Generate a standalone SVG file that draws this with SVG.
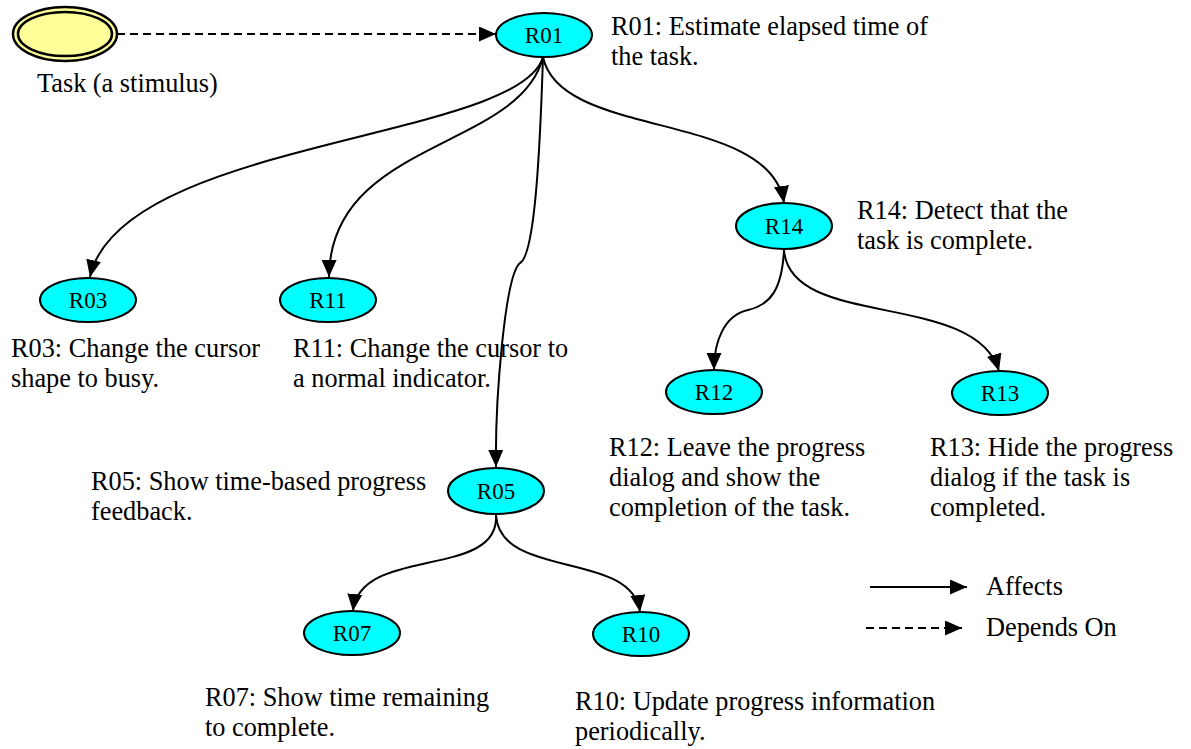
<svg xmlns="http://www.w3.org/2000/svg" width="1191" height="749" viewBox="0 0 1191 749">
<style>
.node{fill:#00ffff;stroke:#000;stroke-width:2}
.lbl{font-family:'Times New Roman','Liberation Serif','DejaVu Serif',serif;font-size:23px;fill:#000;text-anchor:middle}
.txt{font-family:'Times New Roman','Liberation Serif','DejaVu Serif',serif;font-size:26.3px;fill:#000}
.edge{fill:none;stroke:#000;stroke-width:2}
.dash{stroke-dasharray:8 5}
</style>
<defs>
<marker id="arr" markerUnits="userSpaceOnUse" markerWidth="20" markerHeight="16" refX="17" refY="7.5" orient="auto">
<path d="M0,0 L17,7.5 L0,15 Z" fill="#000"/>
</marker>
</defs>
<rect width="1191" height="749" fill="#fff"/>
<g id="connectors">
<path class="edge dash" d="M117,34 L496,34" marker-end="url(#arr)"/>
<path class="edge" d="M543,57 C520,140 120,140 90,277" marker-end="url(#arr)"/>
<path class="edge" d="M543,57 C520,150 330,140 329,277" marker-end="url(#arr)"/>
<path class="edge" d="M543,57 C540,150 535,255 520,263 C505,275 495,400 496,467" marker-end="url(#arr)"/>
<path class="edge" d="M543,57 C560,140 770,110 784,203" marker-end="url(#arr)"/>
<path class="edge" d="M784,250 C782,290 770,305 748,310 C725,315 714,340 714,370" marker-end="url(#arr)"/>
<path class="edge" d="M784,250 C790,330 975,290 999,371" marker-end="url(#arr)"/>
<path class="edge" d="M496,515 C500,580 360,545 353,611" marker-end="url(#arr)"/>
<path class="edge" d="M496,515 C500,580 632,550 640,612" marker-end="url(#arr)"/>
</g>
<g id="task">
<ellipse cx="65" cy="34" rx="52" ry="27" fill="#ffff99" stroke="#000" stroke-width="2.5"/>
<ellipse cx="65" cy="34" rx="47" ry="22" fill="#ffff99" stroke="#000" stroke-width="2.5"/>
<text class="txt" x="37" y="92">Task (a stimulus)</text>
</g>
<g id="R01">
<ellipse class="node" cx="544" cy="35" rx="48" ry="22"/>
<text class="lbl" x="544" y="43">R01</text>
<text class="txt" x="611" y="35">R01: Estimate elapsed time of</text>
<text class="txt" x="611" y="65">the task.</text>
</g>
<g id="R14">
<ellipse class="node" cx="784" cy="226" rx="48" ry="23"/>
<text class="lbl" x="784" y="234">R14</text>
<text class="txt" x="857" y="219">R14: Detect that the</text>
<text class="txt" x="857" y="249">task is complete.</text>
</g>
<g id="R03">
<ellipse class="node" cx="88" cy="300" rx="48" ry="22"/>
<text class="lbl" x="88" y="308">R03</text>
<text class="txt" x="11" y="357">R03: Change the cursor</text>
<text class="txt" x="11" y="387">shape to busy.</text>
</g>
<g id="R11">
<ellipse class="node" cx="328" cy="300" rx="48" ry="22"/>
<text class="lbl" x="328" y="308">R11</text>
<text class="txt" x="293" y="357">R11: Change the cursor to</text>
<text class="txt" x="293" y="387">a normal indicator.</text>
</g>
<g id="R12">
<ellipse class="node" cx="714" cy="392" rx="48" ry="22"/>
<text class="lbl" x="714" y="400">R12</text>
<text class="txt" x="609" y="456">R12: Leave the progress</text>
<text class="txt" x="609" y="486">dialog and show the</text>
<text class="txt" x="609" y="516">completion of the task.</text>
</g>
<g id="R13">
<ellipse class="node" cx="1000" cy="393" rx="48" ry="22"/>
<text class="lbl" x="1000" y="401">R13</text>
<text class="txt" x="930" y="456">R13: Hide the progress</text>
<text class="txt" x="930" y="486">dialog if the task is</text>
<text class="txt" x="930" y="516">completed.</text>
</g>
<g id="R05">
<ellipse class="node" cx="496" cy="491" rx="48" ry="23"/>
<text class="lbl" x="496" y="499">R05</text>
<text class="txt" x="91" y="490">R05: Show time-based progress</text>
<text class="txt" x="91" y="520">feedback.</text>
</g>
<g id="R07">
<ellipse class="node" cx="352" cy="633" rx="48" ry="22"/>
<text class="lbl" x="352" y="641">R07</text>
<text class="txt" x="205" y="706">R07: Show time remaining</text>
<text class="txt" x="205" y="736">to complete.</text>
</g>
<g id="R10">
<ellipse class="node" cx="641" cy="634" rx="48" ry="22"/>
<text class="lbl" x="641" y="642">R10</text>
<text class="txt" x="575" y="710">R10: Update progress information</text>
<text class="txt" x="575" y="740">periodically.</text>
</g>
<g id="legend">
<path class="edge" d="M870,587 L967,587" marker-end="url(#arr)"/>
<path class="edge dash" d="M866,628 L962,628" marker-end="url(#arr)"/>
<text class="txt" x="986" y="595">Affects</text>
<text class="txt" x="986" y="636">Depends On</text>
</g>
</svg>
